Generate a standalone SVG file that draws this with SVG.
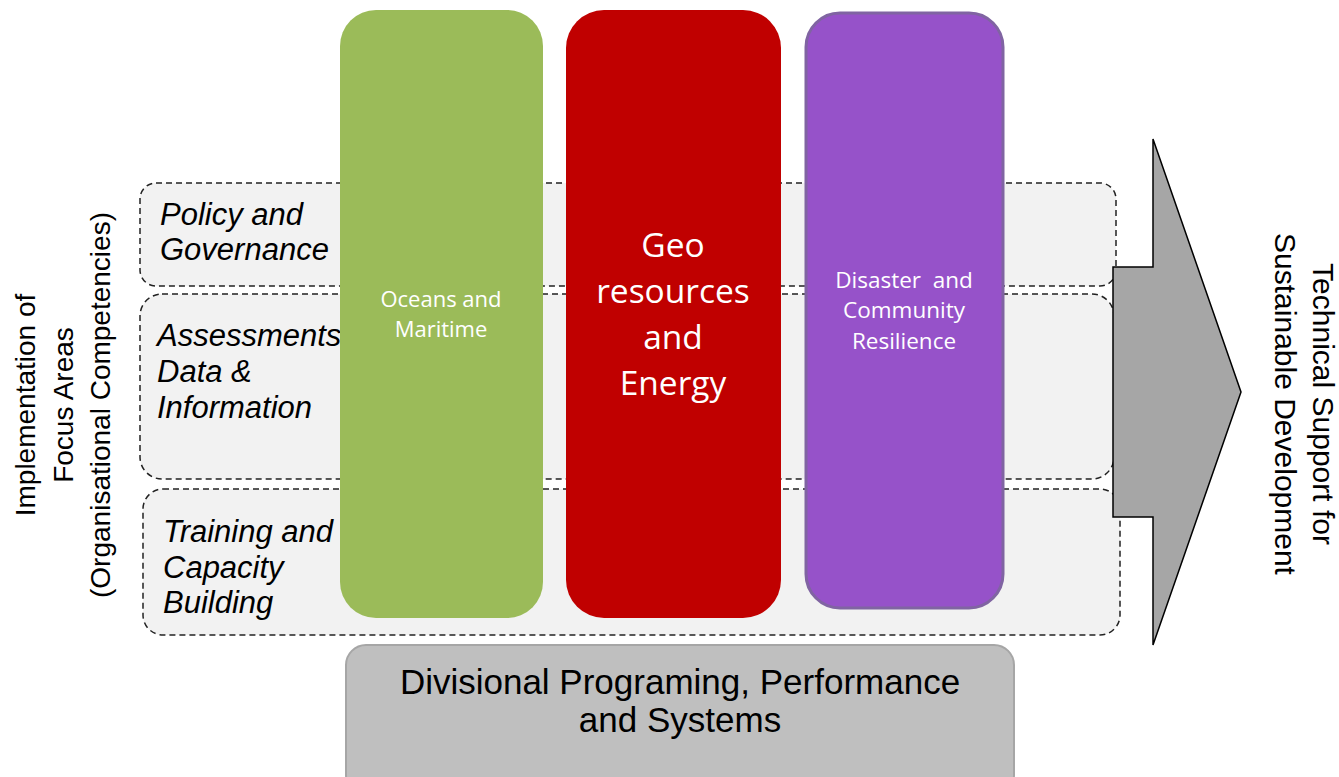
<svg xmlns="http://www.w3.org/2000/svg" width="1339" height="777" viewBox="0 0 1339 777">
<style>
.row{fill:#F2F2F2;stroke:#222;stroke-width:1.5;stroke-dasharray:6 4}
.rowtxt{font-family:"Liberation Sans",Arial,sans-serif;font-style:italic;font-size:31px;fill:#000}
.coltxt{font-family:"Open Sans","Noto Sans",sans-serif;fill:#fff;text-anchor:middle}
.side{font-family:"Liberation Sans",Arial,sans-serif;font-size:28px;fill:#000;text-anchor:middle}
.side2{font-family:"Liberation Sans",Arial,sans-serif;font-size:30px;fill:#000;text-anchor:middle}
.bot{font-family:"Liberation Sans",Arial,sans-serif;font-size:35px;fill:#000;text-anchor:middle}
</style>
<rect width="1339" height="777" fill="#fff"/>
<g id="row-policy">
<rect class="row" x="140" y="183" width="976" height="103" rx="16"/>
<text class="rowtxt" x="160" y="225">Policy and</text>
<text class="rowtxt" x="160" y="260">Governance</text>
</g>
<g id="row-assessments">
<rect class="row" x="140" y="294" width="974" height="185" rx="22"/>
<text class="rowtxt" x="157" y="346">Assessments</text>
<text class="rowtxt" x="157" y="382">Data &amp;</text>
<text class="rowtxt" x="157" y="418">Information</text>
</g>
<g id="row-training">
<rect class="row" x="143" y="489" width="977" height="146" rx="20"/>
<text class="rowtxt" x="163" y="542">Training and</text>
<text class="rowtxt" x="163" y="578">Capacity</text>
<text class="rowtxt" x="163" y="613">Building</text>
</g>
<g id="col-oceans">
<rect x="340" y="10" width="203" height="608" rx="36" fill="#9BBB59"/>
<text class="coltxt" x="441" y="307" font-size="22">Oceans and</text>
<text class="coltxt" x="441" y="337" font-size="22">Maritime</text>
</g>
<g id="col-geo">
<rect x="566" y="10" width="215" height="608" rx="38" fill="#C00000"/>
<text class="coltxt" x="673" y="257" font-size="33.5">Geo</text>
<text class="coltxt" x="673" y="303" font-size="33.5">resources</text>
<text class="coltxt" x="673" y="349" font-size="33.5">and</text>
<text class="coltxt" x="673" y="395" font-size="33.5">Energy</text>
</g>
<g id="col-disaster">
<rect x="806" y="13" width="197" height="595" rx="34" fill="#9652C9" stroke="#8064A2" stroke-width="3"/>
<text class="coltxt" x="904" y="288" font-size="22.5" xml:space="preserve">Disaster  and</text>
<text class="coltxt" x="904" y="318" font-size="22.5">Community</text>
<text class="coltxt" x="904" y="349" font-size="22.5">Resilience</text>
</g>
<g id="arrow-output">
<polygon points="1113,267 1153,267 1153,139 1241,392 1153,645 1153,517 1113,517" fill="#A6A6A6" stroke="#000" stroke-width="1.5" stroke-linejoin="miter"/>
<g transform="translate(1300,404) rotate(90)">
<text class="side2" x="0" y="-13">Technical Support for</text>
<text class="side2" x="0" y="25">Sustainable Development</text>
</g>
</g>
<g id="label-focus">
<g transform="translate(63,405) rotate(-90)">
<text class="side" x="0" y="-28">Implementation of</text>
<text class="side" x="0" y="10">Focus Areas</text>
<text class="side" x="0" y="47">(Organisational Competencies)</text>
</g>
</g>
<g id="box-divisional">
<rect x="346" y="645" width="668" height="150" rx="20" fill="#BFBFBF" stroke="#A6A6A6" stroke-width="2"/>
<text class="bot" x="680" y="694">Divisional Programing, Performance</text>
<text class="bot" x="680" y="732">and Systems</text>
</g>
<g id="connectors"/>
</svg>
